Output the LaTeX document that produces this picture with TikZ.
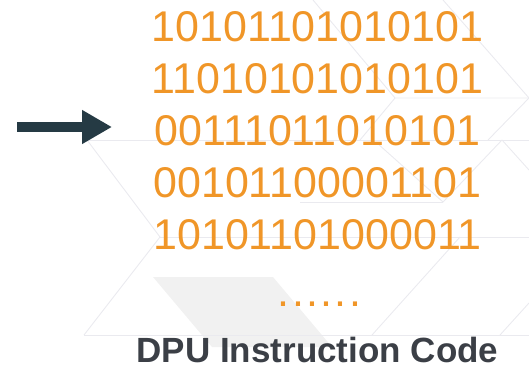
\documentclass[tikz,border=0pt]{standalone}
\usepackage{fontspec}
\setmainfont{Liberation Sans}
\newfontfamily\arialf{Liberation Sans}
\usetikzlibrary{arrows.meta}
\definecolor{codeorange}{RGB}{240,150,40}
\definecolor{titlegray}{RGB}{59,63,70}
\definecolor{arrowslate}{RGB}{37,58,68}
\definecolor{bgline}{RGB}{234,234,239}
\definecolor{bgfill}{RGB}{241,241,241}
\tikzset{
  codeline/.style={anchor=base, inner sep=0pt, text=codeorange,
    font=\arialf\fontsize{43}{52}\selectfont},
  titletext/.style={anchor=base, inner sep=0pt, text=titlegray,
    font=\arialf\bfseries\fontsize{35}{42}\selectfont},
  bg/.style={draw=bgline, line width=0.9pt},
  bigarrow/.style={draw=arrowslate, line width=10pt,
    -{Triangle[length=30pt,width=32pt]}}
}
\begin{document}
\begin{tikzpicture}[x=1pt,y=-1pt]
\useasboundingbox (0,0) rectangle (529,372);
% faint background pattern
\fill[bgfill] (153,277) -- (273,277) -- (332,347) -- (212,347) -- cycle;
\draw[bg] (313,0) -- (395,98) -- (529,98);
\draw[bg] (443,0) -- (529,98);
\draw[bg] (395,98) -- (360,140);
\draw[bg] (529,98) -- (488,140);
\draw[bg] (87,140) -- (529,140);
\draw[bg] (87,140) -- (160,237) -- (84,335);
\draw[bg] (160,237) -- (529,237);
\draw[bg] (300,202) -- (443,202);
\draw[bg] (377,143) -- (443,202) -- (502,140);
\draw[bg] (502,140) -- (529,170);
\draw[bg] (84,335) -- (529,335);
\draw[bg] (372,335) -- (460,237);
\draw[bg] (500,335) -- (529,303);
% binary code
\node[codeline] (l1) at (317.5,41) {10101101010101};
\node[codeline] (l2) at (317.5,93) {11010101010101};
\node[codeline] (l3) at (317.5,145) {00111011010101};
\node[codeline] (l4) at (317.5,197) {00101100001101};
\node[codeline] (l5) at (317.5,249) {10101101000011};
\node[codeline] (dots) at (319.5,306) {.\hspace{2.3pt}.\hspace{2.3pt}.\hspace{2.3pt}.\hspace{2.3pt}.\hspace{2.3pt}.};
\node[titletext] (title) at (317.5,362) {DPU Instruction Code};
% arrow
\coordinate (a0) at (17,127);
\coordinate (a1) at (112,127);
\draw[bigarrow] (a0) -- (a1);
\end{tikzpicture}
\end{document}
